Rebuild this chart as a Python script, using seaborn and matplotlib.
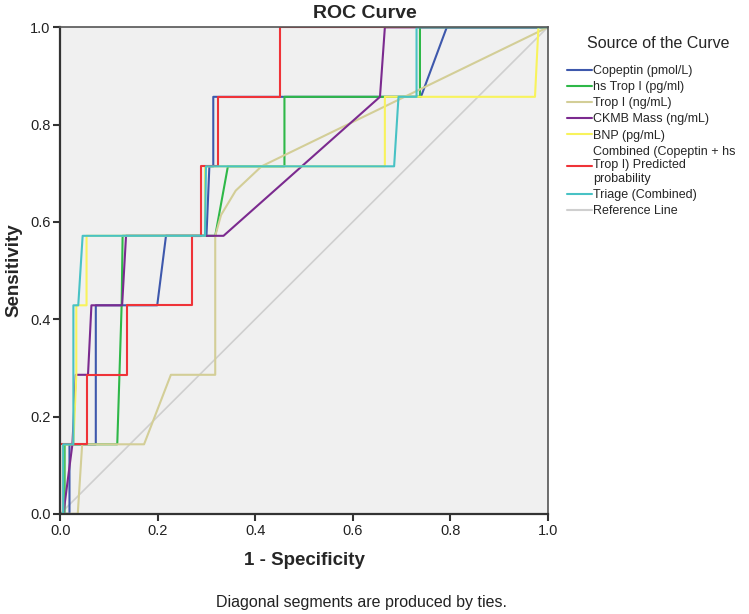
import numpy as np
import pandas as pd
import matplotlib
matplotlib.use("Agg")
import matplotlib.pyplot as plt
from matplotlib.lines import Line2D
import seaborn as sns

# ROC curves, tpr in units of 1/7 (7 positive cases)
copeptin_fpr = [0, 0.019, 0.019, 0.073, 0.073, 0.199, 0.217, 0.300, 0.306, 0.314, 0.314, 0.740, 0.793, 1.0]
copeptin_tpr = [0, 0, 1, 1, 3, 3, 4, 4, 5, 5, 6, 6, 7, 7]

hstrop_fpr = [0, 0.009, 0.009, 0.117, 0.126, 0.128, 0.318, 0.344, 0.460, 0.460, 0.738, 0.738, 1.0]
hstrop_tpr = [0, 0, 1, 1, 3, 4, 4, 5, 5, 6, 6, 7, 7]

tropi_fpr = [0, 0.036, 0.045, 0.172, 0.227, 0.318, 0.318, 0.330, 0.360, 0.413, 1.0]
tropi_tpr = [0, 0, 1, 1, 2, 2, 4, 4.3, 4.65, 5, 7]

ckmb_fpr = [0, 0.0065, 0.025, 0.032, 0.057, 0.064, 0.127, 0.135, 0.335, 0.656, 0.666, 1.0]
ckmb_tpr = [0, 0, 1, 2, 2, 3, 3, 4, 4, 6, 7, 7]

bnp_fpr = [0, 0.006, 0.006, 0.027, 0.033, 0.033, 0.054, 0.054, 0.297, 0.297, 0.666, 0.666, 0.974, 0.981, 1.0]
bnp_tpr = [0, 0, 1, 1, 2, 3, 3, 4, 4, 5, 5, 6, 6, 7, 7]

combined_fpr = [0, 0, 0.054, 0.054, 0.136, 0.136, 0.271, 0.271, 0.289, 0.289, 0.324, 0.324, 0.451, 0.451, 1.0]
combined_tpr = [0, 1, 1, 2, 2, 3, 3, 4, 4, 5, 5, 6, 6, 7, 7]

triage_fpr = [0, 0.006, 0.006, 0.027, 0.027, 0.037, 0.046, 0.297, 0.299, 0.685, 0.694, 0.731, 0.731, 1.0]
triage_tpr = [0, 0, 1, 1, 3, 3, 4, 4, 5, 5, 6, 6, 7, 7]

labels = ["Copeptin (pmol/L)", "hs Trop I (pg/ml)", "Trop I (ng/mL)", "CKMB Mass (ng/mL)",
          "BNP (pg/mL)", "Combined (Copeptin + hs\nTrop I) Predicted\nprobability", "Triage (Combined)"]
colors = ["#3e58ac", "#2eb848", "#d3ce97", "#7b2a8f", "#f8f35c", "#ef3338", "#48c2c5"]

curves = [(copeptin_fpr, copeptin_tpr), (hstrop_fpr, hstrop_tpr), (tropi_fpr, tropi_tpr),
          (ckmb_fpr, ckmb_tpr), (bnp_fpr, bnp_tpr), (combined_fpr, combined_tpr),
          (triage_fpr, triage_tpr)]

rows = []
for lab, (fx, ty) in zip(labels, curves):
    for i, (a, b) in enumerate(zip(fx, ty)):
        rows.append({"curve": lab, "order": i, "fpr": a, "tpr": b / 7})
df = pd.DataFrame(rows)

sns.set_theme(style="white")
plt.rcParams["font.family"] = ["Liberation Sans", "DejaVu Sans"]

fig = plt.figure(figsize=(7.49, 6.14), dpi=100)
ax = fig.add_axes([0.0804, 0.1632, 0.6508, 0.7923])
ax.set_facecolor("#f0f0f0")

# reference diagonal underneath
sns.lineplot(x=[0, 1], y=[0, 1], color="#cfcfcf", lw=1.2, ax=ax, zorder=1)
sns.lineplot(data=df, x="fpr", y="tpr", hue="curve", palette=dict(zip(labels, colors)),
             hue_order=labels, sort=False, estimator=None, units="curve",
             lw=1.5, legend=False, ax=ax, zorder=2)

ax.set_xlim(0, 1)
ax.set_ylim(0, 1)
ticks = [0.0, 0.2, 0.4, 0.6, 0.8, 1.0]
ax.set_xticks(ticks)
ax.set_yticks(ticks)
ax.set_xticklabels([f"{t:.1f}" for t in ticks], fontsize=10.5, color="#222222")
ax.set_yticklabels([f"{t:.1f}" for t in ticks], fontsize=10.5, color="#222222")
ax.tick_params(axis="both", direction="out", length=5, width=1.5, color="#333333",
               bottom=True, left=True, pad=2)
for s in ["left", "bottom"]:
    ax.spines[s].set_color("#333333")
    ax.spines[s].set_linewidth(1.6)
for s in ["top", "right"]:
    ax.spines[s].set_color("#555555")
    ax.spines[s].set_linewidth(1.2)

ax.set_xlabel("1 - Specificity", fontsize=13.5, fontweight="bold")
ax.set_ylabel("Sensitivity", fontsize=13.5, fontweight="bold")
ax.xaxis.set_label_coords(0.5, -0.078)
ax.yaxis.set_label_coords(-0.078, 0.5)

fig.text(365 / 749, 1 - 18 / 614, "ROC Curve", ha="center", va="baseline",
         fontsize=14, fontweight="bold")

handles = [Line2D([], [], color=c, lw=1.5) for c in colors]
handles.append(Line2D([], [], color="#cfcfcf", lw=1.5))
leg = ax.legend(handles, labels + ["Reference Line"],
                loc="upper left", bbox_to_anchor=(567 / 749, 1 - 65 / 614),
                bbox_transform=fig.transFigure, frameon=False, fontsize=9,
                handlelength=2.0, handletextpad=0.1,
                labelspacing=0.33, borderpad=0, borderaxespad=0)
fig.text(658 / 749, 1 - 44 / 614, "Source of the Curve", ha="center", va="center",
         fontsize=11.5)

fig.text(362 / 749, 1 - 606.5 / 614, "Diagonal segments are produced by ties.",
         ha="center", va="baseline", fontsize=11.5, color="#222222")

fig.savefig("out.png", dpi=100)
